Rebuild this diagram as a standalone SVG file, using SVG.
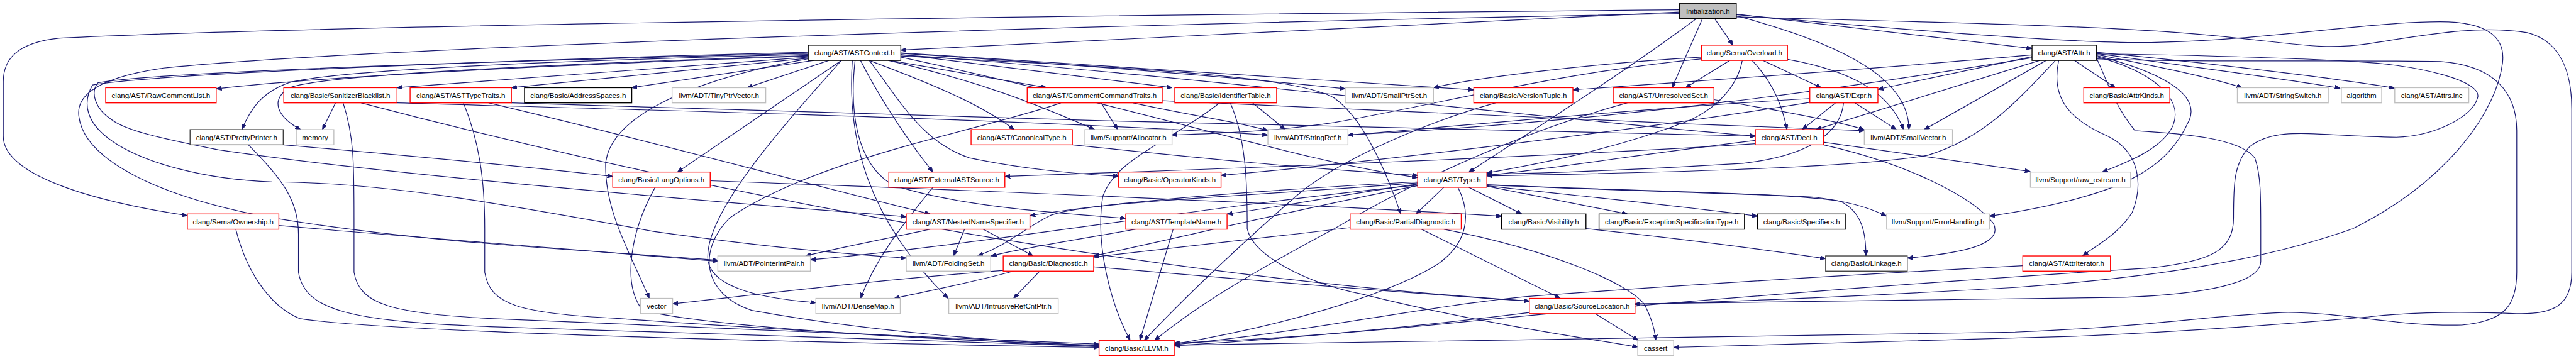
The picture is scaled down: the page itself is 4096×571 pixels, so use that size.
<svg xmlns="http://www.w3.org/2000/svg" width="4096" height="571" viewBox="0 0 4096 571">
<style>
.nd rect{fill:#fff;stroke-width:1.6}
.r rect{stroke:#ff0000}
.g rect{stroke:#bfbfbf}
.b rect{stroke:#000}
.d rect{stroke:#404040}
.f rect{fill:#bfbfbf;stroke:#000}
.nd text{font-family:"Liberation Sans",Arial,sans-serif;font-size:13.3px;text-anchor:middle;fill:#000}
#edges path{fill:none;stroke:#191970;stroke-width:1.4;marker-end:url(#ah)}
</style>
<defs>
<marker id="ah" markerUnits="userSpaceOnUse" viewBox="0 0 10 8" refX="10" refY="4" markerWidth="10" markerHeight="8" orient="auto"><path d="M0,0 L10,4 L0,8 z" fill="#191970" stroke="#191970"/></marker>
</defs>
<rect width="4096" height="571" fill="#fff"/>
<g transform="scale(0.866)">
<g id="edges">
<path d="M3084,22 L1654,92"/>
<path d="M3148,34 L3182,83"/>
<path d="M3188,26 L3731,89"/>
<path d="M3126,34 L3070,161"/>
<path d="M3115,34 C3000,120 2830,230 2697,316"/>
<path d="M3188,29 C3400,85 3505,150 3505,238"/>
<path d="M3084,18 C2200,26 600,45 110,70 C30,78 6,110 6,150 L6,250 C6,320 160,368 344,396"/>
<path d="M3084,25 C2000,45 700,85 300,125 C160,145 140,185 145,215 C155,290 280,360 500,400 C800,450 1100,460 1318,478"/>
<path d="M3188,31 C3500,40 3800,45 4000,60 C4200,75 4250,95 4350,80 C4450,65 4550,45 4640,60 C4700,75 4722,130 4722,200 L4722,500 C4722,560 4690,578 4620,576 C4520,572 4420,574 4349,582 C4200,595 4000,610 3800,618 C3500,628 3200,634 3073,638"/>
<path d="M3188,27 C3500,55 3800,80 3950,78 C4150,75 4350,40 4480,40 C4570,40 4600,70 4595,115 C4585,200 4500,330 4320,420 C4150,480 3950,510 3700,528 C3400,545 3150,555 3002,559"/>
<path d="M3809,111 L3884,161"/>
<path d="M3849,100 C3950,120 4050,140 4117,161"/>
<path d="M3849,98 C4000,120 4200,145 4297,162"/>
<path d="M3849,96 C4050,115 4300,145 4397,162"/>
<path d="M3757,111 L3533,238"/>
<path d="M3745,111 L3334,238"/>
<path d="M3731,104 L3448,164"/>
<path d="M3731,101 C3400,130 3100,150 2888,165"/>
<path d="M3731,106 C3400,160 3000,220 2475,248"/>
<path d="M3774,111 C3700,190 3640,255 3540,285 C3400,310 3000,318 2730,323"/>
<path d="M3849,104 C3950,130 4010,180 3990,230 C3970,275 3900,300 3860,316"/>
<path d="M3849,102 C3960,130 4040,170 4020,220 C3980,310 3900,360 3653,397"/>
<path d="M3780,111 C3765,180 3800,220 3870,250 C3930,280 3935,340 3915,390 C3890,430 3850,450 3824,470"/>
<path d="M3849,108 C4000,115 4300,110 4481,113 C4580,120 4621,170 4621,240 L4621,500 C4621,560 4600,590 4520,597 C4400,600 4300,572 4190,574 C4050,580 3950,600 3700,610 C3000,622 2500,628 2156,634"/>
<path d="M3849,99 C4000,100 4250,108 4322,113 C4450,120 4560,150 4549,180 C4540,215 4470,250 4400,252 C4250,250 4180,230 4130,270 C4101,300 4101,340 4101,400 C4101,460 4060,480 3950,492 C3500,520 3000,560 2700,590 C2500,610 2300,625 2156,630"/>
<path d="M3849,106 C3870,150 3880,190 3920,240 C4000,245 4111,252 4140,290 C4151,320 4151,360 4151,420 L4151,480 C4151,520 4050,540 3900,546 C3500,552 3200,556 3002,558"/>
<path d="M3237,111 L3344,161"/>
<path d="M3217,111 C3245,140 3270,180 3281,238"/>
<path d="M3282,109 C3400,130 3470,170 3495,238"/>
<path d="M3176,111 L3095,161"/>
<path d="M3124,105 C2900,118 2700,145 2632,161"/>
<path d="M3124,108 C2850,135 2650,190 2450,225 C2350,240 2250,245 2152,248"/>
<path d="M3199,111 C3190,160 3150,200 3100,222 C2950,280 2800,305 2730,318"/>
<path d="M1484,103 C1000,120 600,140 397,163"/>
<path d="M1484,105 L729,161"/>
<path d="M1484,107 L939,161"/>
<path d="M1494,111 L1160,161"/>
<path d="M1522,111 L1372,161"/>
<path d="M1484,100 C1000,112 620,128 530,152 C480,170 460,200 444,238"/>
<path d="M1484,102 C1000,118 580,138 530,162 C495,185 510,215 552,238"/>
<path d="M1545,111 L1244,316"/>
<path d="M1484,108 C1250,150 1120,220 1112,300 C1110,390 1160,470 1192,548"/>
<path d="M1545,111 C1420,250 1290,400 1300,480 C1310,530 1400,548 1498,556"/>
<path d="M1484,98 C1000,110 300,130 180,152 C165,170 175,200 204,219 C230,240 300,255 400,275 C700,320 1300,370 1664,398"/>
<path d="M1484,96 C1000,108 280,135 170,156 C150,190 160,225 200,255 C260,300 380,330 500,334 C700,335 900,370 1200,425 C1450,460 1600,470 1664,474"/>
<path d="M1580,111 C1610,170 1660,250 1713,316"/>
<path d="M1596,111 C1700,150 1800,190 1862,238"/>
<path d="M1631,111 C1800,150 1900,190 2010,238"/>
<path d="M1634,111 L1922,161"/>
<path d="M1654,100 L2152,161"/>
<path d="M1596,111 C1650,180 1690,260 1780,290 C1900,315 2000,320 2054,324"/>
<path d="M1570,111 C1560,200 1570,300 1640,340 C1760,380 1950,392 2067,401"/>
<path d="M1565,111 C1555,250 1590,400 1741,548"/>
<path d="M1654,98 C2000,120 2300,145 2470,163"/>
<path d="M1654,97 C2100,125 2500,150 2706,165"/>
<path d="M1654,103 C2100,125 2380,140 2450,180 C2500,215 2540,300 2572,393"/>
<path d="M1654,101 C2100,130 2800,215 3223,250"/>
<path d="M1654,105 C2100,200 2400,300 2603,326"/>
<path d="M2022,189 L2052,238"/>
<path d="M2080,189 C2200,215 2280,225 2328,240"/>
<path d="M1948,189 C1800,240 1500,290 1340,400 C1280,460 1290,540 1380,570 C1600,610 1850,628 2018,635"/>
<path d="M2134,185 C2600,205 3000,225 3423,240"/>
<path d="M2239,189 C2150,260 2050,290 2025,360 C2010,450 2040,560 2075,625"/>
<path d="M2300,189 L2360,238"/>
<path d="M3323,188 C3000,240 2500,300 2242,322"/>
<path d="M2259,189 C2290,260 2290,350 2290,420 C2300,470 2400,520 2500,540 C2700,590 2900,620 3007,637"/>
<path d="M616,189 L592,238"/>
<path d="M630,189 C650,250 650,300 650,400 L650,500 C660,560 720,575 900,585 C1300,605 1700,620 2018,632"/>
<path d="M663,189 C1200,330 2000,500 2808,553"/>
<path d="M729,189 C1300,205 1900,220 2328,248"/>
<path d="M520,266 C800,290 1000,310 1125,324"/>
<path d="M456,266 C520,330 548,370 548,430 L548,500 C560,570 640,590 900,600 C1400,615 1800,628 2018,636"/>
<path d="M512,414 C800,440 1100,462 1318,480"/>
<path d="M433,421 C450,490 490,560 550,585 C700,610 1500,630 2018,638"/>
<path d="M897,189 C1200,260 1450,330 1708,393"/>
<path d="M851,189 C880,260 890,330 890,420 L890,500 C900,560 950,575 1137,585 C1400,605 1800,625 2018,637"/>
<path d="M939,189 C1600,210 2600,240 3223,250"/>
<path d="M1203,344 C1160,420 1140,520 1180,570 C1300,600 1700,625 2018,634"/>
<path d="M1304,332 C1800,350 2400,375 2757,397"/>
<path d="M1969,266 C2200,290 2400,310 2603,322"/>
<path d="M1713,344 C1660,410 1610,470 1580,548"/>
<path d="M3348,261 L3728,315"/>
<path d="M3348,266 C3500,300 3620,360 3660,410 C3680,450 3600,465 3502,474"/>
<path d="M3223,264 C2900,285 2400,305 1845,324"/>
<path d="M3223,258 C3000,285 2850,310 2730,322"/>
<path d="M3370,189 L3309,238"/>
<path d="M3406,189 L3482,238"/>
<path d="M3385,189 C3380,240 3330,285 3200,300 C3000,312 2850,318 2730,320"/>
<path d="M3323,181 C3000,200 2700,230 2475,248"/>
<path d="M3147,183 C3280,205 3380,225 3423,238"/>
<path d="M2988,189 C2800,240 2600,330 2450,420 C2300,500 2200,560 2120,625"/>
<path d="M2746,189 C2600,230 2450,300 2380,360 C2300,430 2200,520 2101,625"/>
<path d="M2651,344 L2600,393"/>
<path d="M2697,344 L2794,393"/>
<path d="M2730,342 L2988,393"/>
<path d="M2730,341 C2900,360 3100,380 3227,397"/>
<path d="M2730,339 C2950,350 3200,355 3330,362 C3400,370 3440,385 3464,397"/>
<path d="M2730,340 C3000,350 3300,355 3380,370 C3420,390 3426,430 3426,470"/>
<path d="M2603,334 C2300,350 2050,370 1891,396"/>
<path d="M2603,338 C2450,360 2350,380 2253,393"/>
<path d="M2603,336 C2300,360 2000,370 1930,395 C1880,420 1850,450 1795,470"/>
<path d="M2603,341 C2400,380 2150,440 2008,470"/>
<path d="M2603,340 C2200,380 1800,450 1488,477"/>
<path d="M2677,344 C2705,400 2690,450 2640,485 C2570,530 2400,590 2156,632"/>
<path d="M2479,418 C2300,440 2100,460 2008,472"/>
<path d="M2610,421 L2865,548"/>
<path d="M2651,421 C2850,460 2990,520 3020,560 C3035,590 3039,610 3040,625"/>
<path d="M2912,420 C3100,440 3250,460 3352,475"/>
<path d="M2085,421 C1980,440 1880,455 1820,470"/>
<path d="M2154,421 L2093,625"/>
<path d="M1771,421 L1751,470"/>
<path d="M1805,421 L1897,470"/>
<path d="M1708,421 C1620,440 1540,455 1479,470"/>
<path d="M1861,498 C1780,520 1700,535 1642,548"/>
<path d="M1909,498 L1861,548"/>
<path d="M1850,496 C1600,515 1400,540 1235,558"/>
<path d="M2008,490 C2300,515 2600,540 2808,553"/>
<path d="M2929,576 L3008,625"/>
<path d="M2808,574 C2600,600 2400,620 2156,635"/>
<path d="M3714,488 C3300,510 3000,530 2800,545 C2600,565 2400,610 2156,633"/>
</g>
<g id="n_init" class="nd f"><rect x="3084" y="6" width="104" height="28"/><text x="3136" y="25">Initialization.h</text></g>
<g id="n_astcontext" class="nd b"><rect x="1484" y="83" width="170" height="28"/><text x="1569" y="102">clang/AST/ASTContext.h</text></g>
<g id="n_overload" class="nd r"><rect x="3124" y="83" width="158" height="28"/><text x="3203" y="102">clang/Sema/Overload.h</text></g>
<g id="n_attr" class="nd b"><rect x="3731" y="83" width="118" height="28"/><text x="3790" y="102">clang/AST/Attr.h</text></g>
<g id="n_rawcomment" class="nd r"><rect x="194" y="161" width="203" height="28"/><text x="295.5" y="180">clang/AST/RawCommentList.h</text></g>
<g id="n_sanitizer" class="nd r"><rect x="521" y="161" width="208" height="28"/><text x="625" y="180">clang/Basic/SanitizerBlacklist.h</text></g>
<g id="n_asttypetraits" class="nd r"><rect x="753" y="161" width="186" height="28"/><text x="846" y="180">clang/AST/ASTTypeTraits.h</text></g>
<g id="n_addressspaces" class="nd b"><rect x="963" y="161" width="197" height="28"/><text x="1061.5" y="180">clang/Basic/AddressSpaces.h</text></g>
<g id="n_tinyptrvector" class="nd g"><rect x="1234" y="161" width="172" height="28"/><text x="1320" y="180">llvm/ADT/TinyPtrVector.h</text></g>
<g id="n_commentcmd" class="nd r"><rect x="1886" y="161" width="248" height="28"/><text x="2010" y="180">clang/AST/CommentCommandTraits.h</text></g>
<g id="n_identtable" class="nd r"><rect x="2157" y="161" width="187" height="28"/><text x="2250.5" y="180">clang/Basic/IdentifierTable.h</text></g>
<g id="n_smallptrset" class="nd g"><rect x="2470" y="161" width="162" height="28"/><text x="2551" y="180">llvm/ADT/SmallPtrSet.h</text></g>
<g id="n_versiontuple" class="nd r"><rect x="2706" y="161" width="182" height="28"/><text x="2797" y="180">clang/Basic/VersionTuple.h</text></g>
<g id="n_unresolvedset" class="nd r"><rect x="2962" y="161" width="185" height="28"/><text x="3054.5" y="180">clang/AST/UnresolvedSet.h</text></g>
<g id="n_expr" class="nd r"><rect x="3323" y="161" width="125" height="28"/><text x="3385.5" y="180">clang/AST/Expr.h</text></g>
<g id="n_attrkinds" class="nd r"><rect x="3826" y="161" width="158" height="28"/><text x="3905" y="180">clang/Basic/AttrKinds.h</text></g>
<g id="n_stringswitch" class="nd g"><rect x="4108" y="161" width="167" height="28"/><text x="4191.5" y="180">llvm/ADT/StringSwitch.h</text></g>
<g id="n_algorithm" class="nd g"><rect x="4299" y="161" width="74" height="28"/><text x="4336" y="180">algorithm</text></g>
<g id="n_attrsinc" class="nd g"><rect x="4397" y="161" width="136" height="28"/><text x="4465" y="180">clang/AST/Attrs.inc</text></g>
<g id="n_prettyprinter" class="nd d"><rect x="349" y="238" width="171" height="28"/><text x="434.5" y="257">clang/AST/PrettyPrinter.h</text></g>
<g id="n_memory" class="nd g"><rect x="544" y="238" width="69" height="28"/><text x="578.5" y="257">memory</text></g>
<g id="n_canonicaltype" class="nd r"><rect x="1783" y="238" width="186" height="28"/><text x="1876" y="257">clang/AST/CanonicalType.h</text></g>
<g id="n_allocator" class="nd g"><rect x="1992" y="238" width="160" height="28"/><text x="2072" y="257">llvm/Support/Allocator.h</text></g>
<g id="n_stringref" class="nd g"><rect x="2328" y="238" width="147" height="28"/><text x="2401.5" y="257">llvm/ADT/StringRef.h</text></g>
<g id="n_decl" class="nd r"><rect x="3223" y="238" width="125" height="28"/><text x="3285.5" y="257">clang/AST/Decl.h</text></g>
<g id="n_smallvector" class="nd g"><rect x="3423" y="238" width="162" height="28"/><text x="3504" y="257">llvm/ADT/SmallVector.h</text></g>
<g id="n_langoptions" class="nd r"><rect x="1125" y="316" width="179" height="28"/><text x="1214.5" y="335">clang/Basic/LangOptions.h</text></g>
<g id="n_externalast" class="nd r"><rect x="1632" y="316" width="213" height="28"/><text x="1738.5" y="335">clang/AST/ExternalASTSource.h</text></g>
<g id="n_operatorkinds" class="nd r"><rect x="2054" y="316" width="188" height="28"/><text x="2148" y="335">clang/Basic/OperatorKinds.h</text></g>
<g id="n_type" class="nd r"><rect x="2603" y="316" width="127" height="28"/><text x="2666.5" y="335">clang/AST/Type.h</text></g>
<g id="n_rawostream" class="nd g"><rect x="3728" y="316" width="184" height="28"/><text x="3820" y="335">llvm/Support/raw_ostream.h</text></g>
<g id="n_ownership" class="nd r"><rect x="344" y="393" width="168" height="28"/><text x="428" y="412">clang/Sema/Ownership.h</text></g>
<g id="n_nns" class="nd r"><rect x="1664" y="393" width="227" height="28"/><text x="1777.5" y="412">clang/AST/NestedNameSpecifier.h</text></g>
<g id="n_templatename" class="nd r"><rect x="2067" y="393" width="186" height="28"/><text x="2160" y="412">clang/AST/TemplateName.h</text></g>
<g id="n_partialdiag" class="nd r"><rect x="2479" y="393" width="204" height="28"/><text x="2581" y="412">clang/Basic/PartialDiagnostic.h</text></g>
<g id="n_visibility" class="nd b"><rect x="2757" y="393" width="155" height="28"/><text x="2834.5" y="412">clang/Basic/Visibility.h</text></g>
<g id="n_exceptionspec" class="nd b"><rect x="2936" y="393" width="267" height="28"/><text x="3069.5" y="412">clang/Basic/ExceptionSpecificationType.h</text></g>
<g id="n_specifiers" class="nd b"><rect x="3227" y="393" width="162" height="28"/><text x="3308" y="412">clang/Basic/Specifiers.h</text></g>
<g id="n_errorhandling" class="nd g"><rect x="3464" y="393" width="189" height="28"/><text x="3558.5" y="412">llvm/Support/ErrorHandling.h</text></g>
<g id="n_pointerintpair" class="nd g"><rect x="1318" y="470" width="170" height="28"/><text x="1403" y="489">llvm/ADT/PointerIntPair.h</text></g>
<g id="n_foldingset" class="nd g"><rect x="1664" y="470" width="155" height="28"/><text x="1741.5" y="489">llvm/ADT/FoldingSet.h</text></g>
<g id="n_diagnostic" class="nd r"><rect x="1842" y="470" width="166" height="28"/><text x="1925" y="489">clang/Basic/Diagnostic.h</text></g>
<g id="n_linkage" class="nd d"><rect x="3352" y="470" width="150" height="28"/><text x="3427" y="489">clang/Basic/Linkage.h</text></g>
<g id="n_attriterator" class="nd r"><rect x="3714" y="470" width="161" height="28"/><text x="3794.5" y="489">clang/AST/AttrIterator.h</text></g>
<g id="n_vector" class="nd g"><rect x="1176" y="548" width="59" height="28"/><text x="1205.5" y="567">vector</text></g>
<g id="n_densemap" class="nd g"><rect x="1498" y="548" width="155" height="28"/><text x="1575.5" y="567">llvm/ADT/DenseMap.h</text></g>
<g id="n_intrusive" class="nd g"><rect x="1742" y="548" width="201" height="28"/><text x="1842.5" y="567">llvm/ADT/IntrusiveRefCntPtr.h</text></g>
<g id="n_sourceloc" class="nd r"><rect x="2808" y="548" width="194" height="28"/><text x="2905" y="567">clang/Basic/SourceLocation.h</text></g>
<g id="n_llvm" class="nd r"><rect x="2018" y="625" width="138" height="28"/><text x="2087" y="644">clang/Basic/LLVM.h</text></g>
<g id="n_cassert" class="nd g"><rect x="3007" y="625" width="66" height="28"/><text x="3040" y="644">cassert</text></g>
</g>
</svg>
